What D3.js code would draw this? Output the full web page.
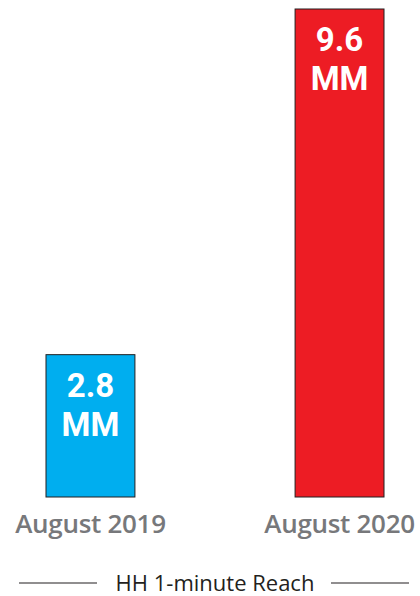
<!DOCTYPE html>
<html>
<head>
<meta charset="utf-8">
<script src="https://cdn.jsdelivr.net/npm/d3@7"></script>
<style>
  body { margin: 0; background: #fff; }
</style>
</head>
<body>
<div id="chart"></div>
<script>
// data
var categories = ["August 2019", "August 2020"];
var values = [2.8, 9.6];
var valueLabels = ["2.8", "9.6"];
var unitLabel = "MM";
var barColors = ["#00AEEF", "#ED1C24"];
var footerText = "HH 1-minute Reach";

const width = 420, height = 596;

var svg = d3.select("#chart")
  .append("svg")
  .attr("width", width)
  .attr("height", height);

var x = d3.scaleBand()
  .domain(categories)
  .range([46, 384])
  .paddingInner(0.643)
  .paddingOuter(0);

var y = d3.scaleLinear()
  .domain([0, 9.6])
  .range([497, 9]);

// bars
svg.selectAll("rect.bar")
  .data(values)
  .enter()
  .append("rect")
  .attr("class", "bar")
  .attr("x", (d, i) => x(categories[i]))
  .attr("y", d => y(d))
  .attr("width", x.bandwidth())
  .attr("height", d => y(0) - y(d))
  .attr("fill", (d, i) => barColors[i])
  .attr("stroke", "#231f20")
  .attr("stroke-width", 1);

// value labels inside bars
var font = "'Open Sans', 'Noto Sans', sans-serif";
var labelFont = "Roboto, 'Open Sans', sans-serif";

svg.selectAll("text.val")
  .data(values)
  .enter()
  .append("text")
  .attr("class", "val")
  .attr("x", (d, i) => x(categories[i]) + x.bandwidth() / 2)
  .attr("y", d => y(d) + 42)
  .attr("text-anchor", "middle")
  .style("font-family", labelFont)
  .style("font-weight", 700)
  .style("font-size", "33px")
  .style("fill", "#fff")
  .text((d, i) => valueLabels[i]);

svg.selectAll("text.unit")
  .data(values)
  .enter()
  .append("text")
  .attr("class", "unit")
  .attr("x", (d, i) => x(categories[i]) + x.bandwidth() / 2)
  .attr("y", d => y(d) + 81)
  .attr("text-anchor", "middle")
  .style("font-family", labelFont)
  .style("font-weight", 700)
  .style("font-size", "33px")
  .style("fill", "#fff")
  .text(unitLabel);

// category labels
svg.selectAll("text.cat")
  .data(categories)
  .enter()
  .append("text")
  .attr("class", "cat")
  .attr("x", d => x(d) + x.bandwidth() / 2)
  .attr("y", 533)
  .attr("text-anchor", "middle")
  .style("font-family", font)
  .style("font-weight", 600)
  .style("font-size", "26px")
  .style("letter-spacing", "-0.3px")
  .style("fill", "#77787b")
  .text(d => d);

// footer with rules on both sides
svg.append("text")
  .attr("x", 215)
  .attr("y", 591)
  .attr("text-anchor", "middle")
  .style("font-family", font)
  .style("font-size", "22px")
  .style("fill", "#231f20")
  .text(footerText);

svg.append("line")
  .attr("x1", 19).attr("x2", 97)
  .attr("y1", 583).attr("y2", 583)
  .attr("stroke", "#231f20").attr("stroke-width", 1.2);
svg.append("line")
  .attr("x1", 331).attr("x2", 409)
  .attr("y1", 583).attr("y2", 583)
  .attr("stroke", "#231f20").attr("stroke-width", 1.2);
</script>
</body>
</html>
